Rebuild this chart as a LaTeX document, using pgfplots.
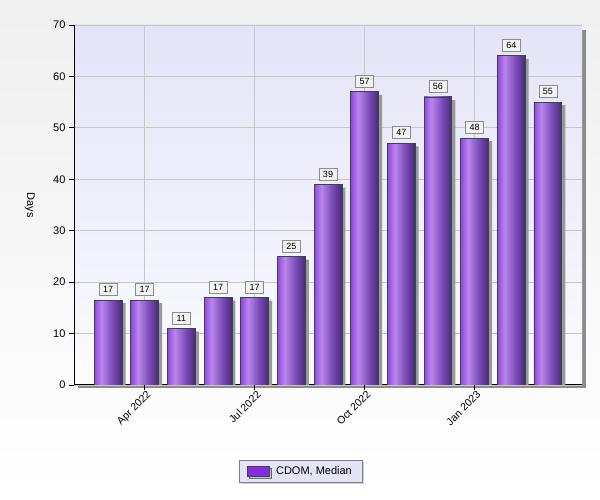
\documentclass[border=0pt]{standalone}
\usepackage{pgfplots}
\usepackage{pgfplotstable}
\pgfplotsset{compat=1.18}
\usepackage{fontspec}
\setmainfont{Liberation Sans}
\usetikzlibrary{shadows}
\definecolor{bA}{HTML}{9444E0}
\definecolor{bB}{HTML}{B886EC}
\definecolor{bC}{HTML}{7A4AB6}
\definecolor{bD}{HTML}{4A2878}
\definecolor{barline}{HTML}{2F4A4A}
\definecolor{plottop}{HTML}{E4E4F8}
\definecolor{plotbot}{HTML}{FBFBFF}
\definecolor{gridc}{HTML}{C8C8C8}
\definecolor{legfill}{HTML}{E4E4F8}
\definecolor{legpurple}{HTML}{8A2BE2}
\pgfdeclarehorizontalshading{barshade}{100bp}{color(0bp)=(bA); color(25bp)=(bA); color(38bp)=(bB); color(58bp)=(bC); color(75bp)=(bD); color(100bp)=(bD)}
\pgfplotstableread{
x y lab
0 16.5 17
1 16.5 17
2 11 11
3 17 17
4 17 17
5 25 25
6 39 39
7 57 57
8 47 47
9 56 56
10 48 48
11 64 64
12 55 55
}\datatable
\pgfplotsset{
  mainbar/.style={ybar, bar width=0.76, bar shift=0pt, draw=barline, line width=0.8pt, shade, shading=barshade,
    point meta=explicit symbolic, nodes near coords,
    every node near coord/.style={anchor=south, yshift=4pt, draw=black!45, fill=black!5, inner xsep=4pt, inner ysep=1.5pt, minimum height=12pt, font=\fontsize{9}{10}\selectfont, text=black},
    forget plot},
}
\begin{document}
\begin{tikzpicture}
\shade[top color=black!6, bottom color=white] (0pt,0pt) rectangle (600pt,500pt);
\fill[black!45] (78pt,112pt) rectangle (586pt,470pt);
\begin{axis}[
  at={(74pt,115pt)}, anchor=south west,
  scale only axis, width=508pt, height=360pt,
  xmin=-0.93, xmax=12.93, ymin=0, ymax=70,
  axis x line*=bottom, axis y line*=left,
  axis line style={black, line width=1pt, -},
  xtick={1,4,7,10},
  xticklabels={Apr 2022,Jul 2022,Oct 2022,Jan 2023},
  ytick={0,10,...,70},
  tick align=outside,
  major tick length=5pt,
  tick style={black, line width=0.8pt},
  grid=major,
  major grid style={gridc, line width=0.8pt},
  axis background/.style={top color=plottop, bottom color=plotbot},
  /pgf/number format/assume math mode=true,
  ticklabel style={font=\fontsize{11}{13}\selectfont},
  xticklabel style={rotate=45, anchor=north east, inner sep=1pt, xshift=2pt, font=\fontsize{10.5}{12}\selectfont},
  ylabel={Days},
  ylabel style={at={(axis description cs:-0.087,0.5)}, anchor=center, rotate=180, font=\fontsize{11}{13}\selectfont},
  legend style={at={(0.446,-0.239)}, anchor=center, fill=legfill, draw=black!50,
    font=\fontsize{11}{13}\selectfont, inner xsep=8pt, inner ysep=4pt,
    drop shadow={shadow xshift=2pt, shadow yshift=-2pt, fill=black!35}},
]
\addplot[ybar, bar width=0.76, bar shift=3.5pt, fill=black!40, draw=none, forget plot]
  table[x=x, y expr=\thisrow{y}-0.6] {\datatable};
\addplot[mainbar] coordinates {(0,16.5) [17]};
\addplot[mainbar] coordinates {(1,16.5) [17]};
\addplot[mainbar] coordinates {(2,11) [11]};
\addplot[mainbar] coordinates {(3,17) [17]};
\addplot[mainbar] coordinates {(4,17) [17]};
\addplot[mainbar] coordinates {(5,25) [25]};
\addplot[mainbar] coordinates {(6,39) [39]};
\addplot[mainbar] coordinates {(7,57) [57]};
\addplot[mainbar] coordinates {(8,47) [47]};
\addplot[mainbar] coordinates {(9,56) [56]};
\addplot[mainbar] coordinates {(10,48) [48]};
\addplot[mainbar] coordinates {(11,64) [64]};
\addplot[mainbar] coordinates {(12,55) [55]};
\addlegendimage{legend image code/.code={\draw[fill=legpurple, draw=barline, line width=0.8pt] (0pt,-5pt) rectangle (22pt,5pt);}}
\addlegendentry{\hspace{4pt}CDOM, Median\hspace{10pt}}
\end{axis}
\pgfresetboundingbox
\path[use as bounding box] (0pt,0pt) rectangle (600pt,500pt);
\end{tikzpicture}
\end{document}
